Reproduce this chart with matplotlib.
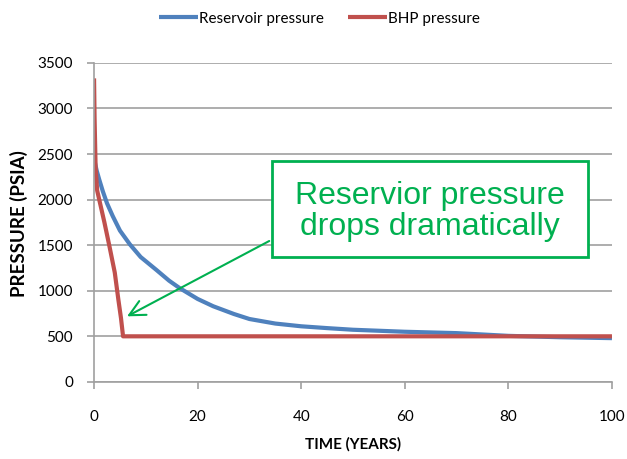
import matplotlib
matplotlib.use("Agg")
import matplotlib.pyplot as plt
from matplotlib.patches import Rectangle

# Datos
years_res = [0, 0.5, 1, 1.7, 2.5, 3.6, 5, 6.9, 9, 12, 14.5, 16.5, 20, 23, 27, 30,
             35, 40, 45, 50, 60, 70, 80, 90, 100]
p_res = [2450, 2320, 2220, 2090, 1960, 1820, 1660, 1510, 1370, 1230, 1110, 1030, 910, 830,
         745, 690, 640, 610, 590, 572, 550, 535, 505, 490, 480]

years_bhp = [0, 0.1, 0.3, 0.6, 1, 2, 3, 4, 4.7, 5.2, 5.6, 100]
p_bhp = [3330, 2900, 2350, 2100, 2000, 1750, 1480, 1200, 900, 700, 500, 500]

yticks = [0, 500, 1000, 1500, 2000, 2500, 3000, 3500]
xticks = [0, 20, 40, 60, 80, 100]

blue = '#4F81BD'
red = '#C0504D'
green = '#00B050'
grid_gray = '#A0A0A0'
fuente = ['Lato', 'DejaVu Sans']

fig = plt.figure(figsize=(6.27, 4.59), dpi=100)
ax = fig.add_axes([0.150, 0.168, 0.826, 0.695])

ax.plot(years_res, p_res, color=blue, lw=3, label='Reservoir pressure', solid_capstyle='butt')
ax.plot(years_bhp, p_bhp, color=red, lw=3, label='BHP pressure', solid_capstyle='butt')

ax.set_xlim(0, 100)
ax.set_ylim(0, 3500)
ax.set_xticks(xticks)
ax.set_yticks(yticks)
ax.yaxis.grid(True, color=grid_gray, lw=1.2)
ax.set_axisbelow(True)
for s in ['top', 'right']:
    ax.spines[s].set_visible(False)
for s in ['left', 'bottom']:
    ax.spines[s].set_color(grid_gray)
    ax.spines[s].set_linewidth(1.2)
ax.tick_params(axis='x', colors=grid_gray, length=5, width=1.2, pad=15, labelcolor='black', labelsize=11)
ax.tick_params(axis='y', colors=grid_gray, length=5, width=1.2, pad=10, labelcolor='black', labelsize=11)
for lab in ax.get_xticklabels() + ax.get_yticklabels():
    lab.set_family(fuente)

ax.set_xlabel('TIME (YEARS)', fontsize=11, fontweight='bold', family=fuente, labelpad=10)
ax.set_ylabel('PRESSURE (PSIA)', fontsize=13.5, fontweight='bold', family=fuente)
ax.yaxis.set_label_coords(-0.127, 0.495)

leg = fig.legend(loc='center', bbox_to_anchor=(0.51, 0.959), ncol=2, frameon=False,
                 prop={'family': fuente, 'size': 11}, handlelength=2.5, columnspacing=1.6,
                 handletextpad=0.1)

# Cuadro de texto y flecha
ax.add_patch(Rectangle((34.3, 1366), 61.1, 1057, facecolor='white', edgecolor=green, lw=2, zorder=4))
ax.text(64.8, 1870, 'Reservior pressure\ndrops dramatically', color=green, fontsize=23,
        family='Liberation Sans', ha='center', va='center', linespacing=1.05, zorder=5)
ax.annotate('', xy=(5.9, 705), xytext=(34.3, 1560),
            arrowprops=dict(arrowstyle='->', color=green, lw=1.5, mutation_scale=28))

fig.savefig('out.png', dpi=100)
